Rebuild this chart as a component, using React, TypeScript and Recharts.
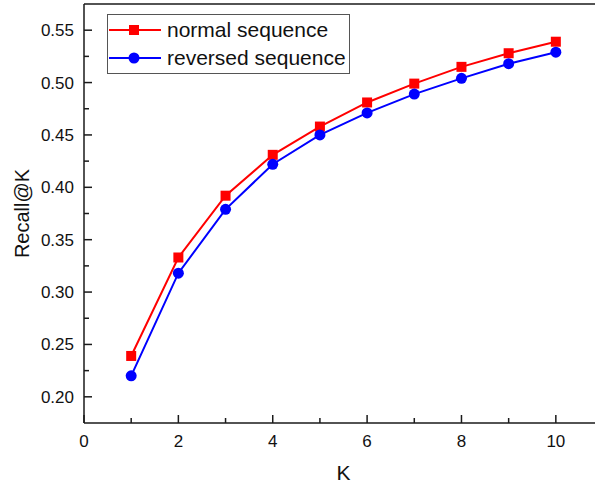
import React from 'react';
import {
  LineChart,
  Line,
  XAxis,
  YAxis,
  Legend,
  ReferenceLine,
} from 'recharts';

const kValues = [1, 2, 3, 4, 5, 6, 7, 8, 9, 10];
const normalSeq = [0.239, 0.333, 0.392, 0.431, 0.458, 0.481, 0.499, 0.515, 0.528, 0.539];
const reversedSeq = [0.220, 0.318, 0.379, 0.422, 0.450, 0.471, 0.489, 0.504, 0.518, 0.529];

const xTicks = [0, 1, 2, 3, 4, 5, 6, 7, 8, 9, 10];
const yTicks = [0.2, 0.225, 0.25, 0.275, 0.3, 0.325, 0.35, 0.375, 0.4, 0.425, 0.45, 0.475, 0.5, 0.525, 0.55];

const FONT = '"Liberation Sans", Arial, sans-serif';
const AXIS = '#1a1a1a';
const RED = '#ff0000';
const BLUE = '#0000ff';

const data = kValues.map((k, i) => ({
  k,
  normal: normalSeq[i],
  reversed: reversedSeq[i],
}));

const XTick = ({ x, y, payload }: any) => {
  const major = payload.value % 2 === 0;
  return (
    <g>
      <line x1={x} x2={x} y1={y} y2={y - (major ? 8 : 5)} stroke={AXIS} strokeWidth={1.5} />
      {major && (
        <text x={x} y={y + 24} textAnchor="middle" fontSize={17} fontFamily={FONT} fill="#111">
          {payload.value}
        </text>
      )}
    </g>
  );
};

const YTick = ({ x, y, payload }: any) => {
  const v = payload.value;
  const major = Math.abs(v * 20 - Math.round(v * 20)) < 1e-6;
  return (
    <g>
      <line x1={x} x2={x + (major ? 8 : 5)} y1={y} y2={y} stroke={AXIS} strokeWidth={1.5} />
      {major && (
        <text x={x - 10} y={y + 6} textAnchor="end" fontSize={17} fontFamily={FONT} fill="#111">
          {v.toFixed(2)}
        </text>
      )}
    </g>
  );
};

const SquareDot = ({ cx, cy }: any) => (
  <rect x={cx - 5} y={cy - 5} width={10} height={10} fill={RED} />
);

const CircleDot = ({ cx, cy }: any) => <circle cx={cx} cy={cy} r={5.5} fill={BLUE} />;

const legendItems = [
  { name: 'normal sequence', color: RED, shape: 'square' },
  { name: 'reversed sequence', color: BLUE, shape: 'circle' },
];

const renderLegend = () => (
  <div
    style={{
      border: '1.5px solid #555',
      background: '#fff',
      width: 241,
      padding: '1px 0',
      fontFamily: FONT,
    }}
  >
    {legendItems.map((item) => (
      <div key={item.name} style={{ display: 'flex', alignItems: 'center', height: 28 }}>
        <svg width={56} height={28}>
          <line x1={1} x2={53} y1={14} y2={14} stroke={item.color} strokeWidth={2} />
          {item.shape === 'square' ? (
            <rect x={21} y={9} width={10} height={10} fill={item.color} />
          ) : (
            <circle cx={26} cy={14} r={5.5} fill={item.color} />
          )}
        </svg>
        <span style={{ fontSize: 21, color: '#111', marginLeft: 3, lineHeight: '28px' }}>
          {item.name}
        </span>
      </div>
    ))}
  </div>
);

export default function App() {
  return (
    <div style={{ position: 'absolute', left: 0, top: 0, background: '#fff' }}>
      <LineChart
        width={595}
        height={485}
        data={data}
        margin={{ top: 4, right: 0, bottom: 0, left: 0 }}
      >
        <XAxis
          dataKey="k"
          type="number"
          domain={[0, 10.83]}
          ticks={xTicks}
          allowDataOverflow
          height={62}
          tickSize={0}
          tickMargin={0}
          tickLine={false}
          tick={<XTick />}
          axisLine={{ stroke: AXIS, strokeWidth: 1.5 }}
          label={{
            content: ({ viewBox }: any) => (
              <text
                x={viewBox.x + viewBox.width / 2 + 4}
                y={480}
                textAnchor="middle"
                fontSize={21}
                fontFamily={FONT}
                fill="#111"
              >
                K
              </text>
            ),
          }}
        />
        <YAxis
          type="number"
          domain={[0.175, 0.575]}
          ticks={yTicks}
          allowDataOverflow
          width={84}
          tickSize={0}
          tickMargin={0}
          tickLine={false}
          tick={<YTick />}
          axisLine={{ stroke: AXIS, strokeWidth: 1.5 }}
          label={{
            content: ({ viewBox }: any) => {
              const cy = viewBox.y + viewBox.height / 2;
              return (
                <text
                  x={22}
                  y={cy}
                  transform={`rotate(-90, 22, ${cy})`}
                  textAnchor="middle"
                  dominantBaseline="central"
                  fontSize={20}
                  fontFamily={FONT}
                  fill="#111"
                >
                  Recall@K
                </text>
              );
            },
          }}
        />
        <ReferenceLine y={0.575} stroke={AXIS} strokeWidth={1.5} />
        <Legend
          layout="vertical"
          verticalAlign="middle"
          align="center"
          content={renderLegend}
          wrapperStyle={{ position: 'absolute', left: 107, top: 14, width: 'auto', height: 'auto' }}
        />
        <Line
          dataKey="normal"
          stroke={RED}
          strokeWidth={2}
          dot={<SquareDot />}
          isAnimationActive={false}
        />
        <Line
          dataKey="reversed"
          stroke={BLUE}
          strokeWidth={2}
          dot={<CircleDot />}
          isAnimationActive={false}
        />
      </LineChart>
    </div>
  );
}
